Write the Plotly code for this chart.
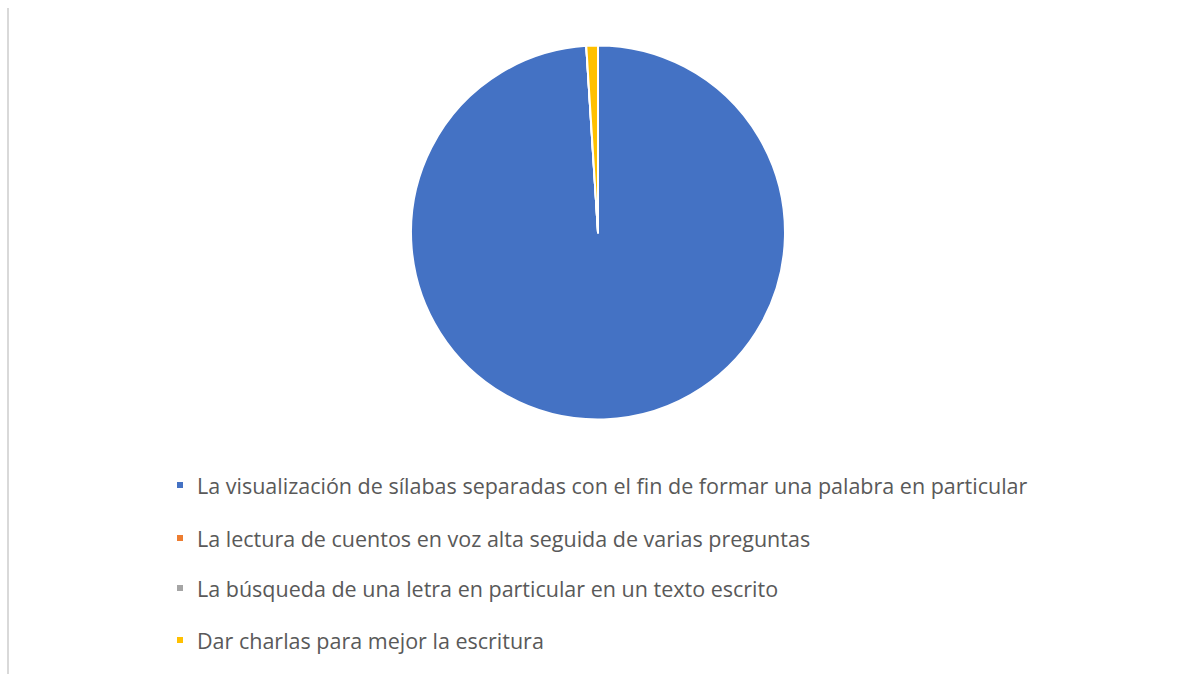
import plotly.graph_objects as go

labels = [
    "La visualización de sílabas separadas con el fin de formar una palabra en particular",
    "La lectura de cuentos en voz alta seguida de varias preguntas",
    "La búsqueda de una letra en particular en un texto escrito",
    "Dar charlas para mejor la escritura",
]
values = [99, 0, 0, 1]
colors = ["#4472C4", "#ED7D31", "#A5A5A5", "#FFC000"]

W, H = 1180, 674
cx, cy, r = 598, 232.5, 187

fig = go.Figure(go.Pie(
    labels=labels,
    values=values,
    sort=False,
    direction="clockwise",
    rotation=0,
    textinfo="none",
    hoverinfo="label+value+percent",
    marker=dict(colors=colors, line=dict(color="white", width=2)),
    domain=dict(x=[(cx - r) / W, (cx + r) / W], y=[1 - (cy + r) / H, 1 - (cy - r) / H]),
    showlegend=False,
))

# legend drawn as annotations + small square swatches
leg_y = [485, 538, 588, 640]
leg_text_x = 195
leg_mark_x = 180
ms = 6
annotations = []
shapes = [dict(type="line", xref="paper", yref="paper",
               x0=8 / W, x1=8 / W, y0=0, y1=1 - 8 / H,
               line=dict(color="#d9d9d9", width=2))]
for lab, col, yy in zip(labels, colors, leg_y):
    annotations.append(dict(
        xref="paper", yref="paper", x=leg_text_x / W, y=1 - yy / H,
        xanchor="left", yanchor="middle", text=lab, showarrow=False,
        font=dict(family="Open Sans", size=21.5, color="#595959"),
    ))
    shapes.append(dict(
        type="rect", xref="paper", yref="paper",
        x0=(leg_mark_x - ms / 2) / W, x1=(leg_mark_x + ms / 2) / W,
        y0=1 - (yy + ms / 2) / H, y1=1 - (yy - ms / 2) / H,
        fillcolor=col, line=dict(width=0),
    ))

fig.update_layout(
    width=W, height=H,
    margin=dict(l=0, r=0, t=0, b=0),
    paper_bgcolor="white",
    plot_bgcolor="white",
    font=dict(family="Open Sans", color="#595959"),
    annotations=annotations,
    shapes=shapes,
)

fig.write_html("out.html", config={"displayModeBar": False},
               post_script="document.body.style.margin='0';")
